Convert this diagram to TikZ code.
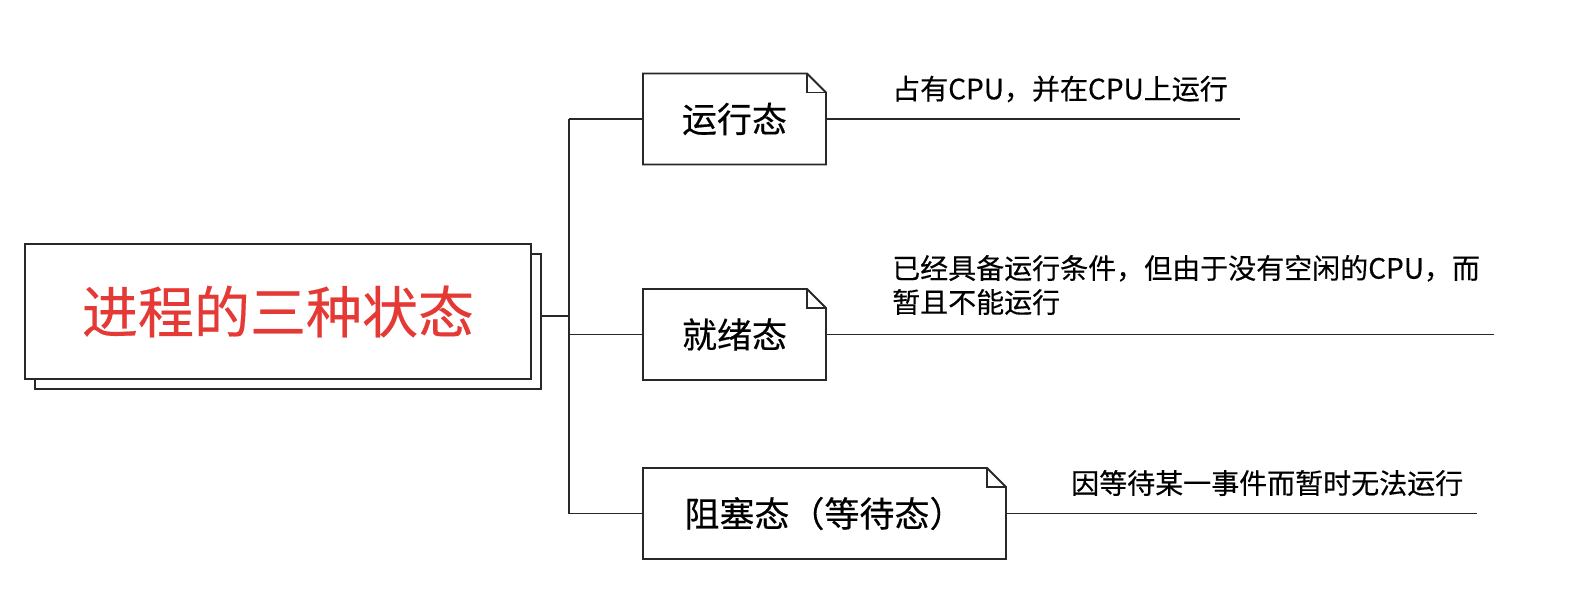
\documentclass[tikz,border=0pt]{standalone}
\usepackage{fontspec}
\setmainfont{Noto Sans CJK SC}[FakeBold=0.35]
\usetikzlibrary{calc}
\definecolor{lineclr}{RGB}{40,40,40}
\definecolor{rootred}{RGB}{229,57,53}
\begin{document}
\begin{tikzpicture}[x=1pt,y=-1pt,
  conn/.style={draw=lineclr,line width=1.9pt},
  rootbox/.style={draw=lineclr,line width=1.9pt,fill=white,minimum width=506pt,minimum height=135pt,inner sep=0pt,outer sep=0pt},
  statebox/.style={minimum height=91pt,inner sep=0pt,outer sep=0pt,font=\fontsize{35}{40}\selectfont},
  desc/.style={anchor=west,inner sep=0pt,font=\fontsize{28}{34}\selectfont,align=left}
]
\useasboundingbox (0,0) rectangle (1578,602);
% root
\node[rootbox] (rootback) at (288,321.5) {};
\node[rootbox,text=rootred,font=\fontsize{56}{60}\selectfont] (root) at (278,311.5) {进程的三种状态};
% states
\node[statebox,minimum width=183pt] (s1) at (734.5,119) {运行态};
\node[statebox,minimum width=183pt] (s2) at (734.5,334.5) {就绪态};
\node[statebox,minimum width=363pt] (s3) at (824.5,513.5) {阻塞态（等待态）};
\foreach \n in {s1,s2,s3}{
  \draw[conn,line join=miter] (\n.north west) -- ($(\n.north east)+(-19,0)$) -- ($(\n.north east)+(0,19)$) -- (\n.south east) -- (\n.south west) -- cycle;
  \draw[conn] ($(\n.north east)+(-19,0)$) -- ($(\n.north east)+(-19,19)$) -- ($(\n.north east)+(0,19)$);
}
% trunk
\coordinate (r0) at (541,316);
\coordinate (t0) at (569,316);
\coordinate (t1) at (569,119);
\coordinate (t2) at (569,334.5);
\coordinate (t3) at (569,513.5);
\draw[conn] (r0) -- (t0);
\draw[conn] (t1) -- (t3);
\draw[conn] (t1) -- (s1.west);
\draw[conn] (t2) -- (s2.west);
\draw[conn] (t3) -- (s3.west);
% description lines
\coordinate (e1) at (1240,119);
\coordinate (e2) at (1494,334.5);
\coordinate (e3) at (1477,513.5);
\draw[conn] (s1.east) -- (e1);
\draw[conn] (s2.east) -- (e2);
\draw[conn] (s3.east) -- (e3);
% descriptions
\node[desc] (d1) at (892,89) {占有CPU，并在CPU上运行};
\node[desc] (d2) at (892,285) {已经具备运行条件，但由于没有空闲的CPU，而\\暂且不能运行};
\node[desc] (d3) at (1071,483) {因等待某一事件而暂时无法运行};
\end{tikzpicture}
\end{document}
